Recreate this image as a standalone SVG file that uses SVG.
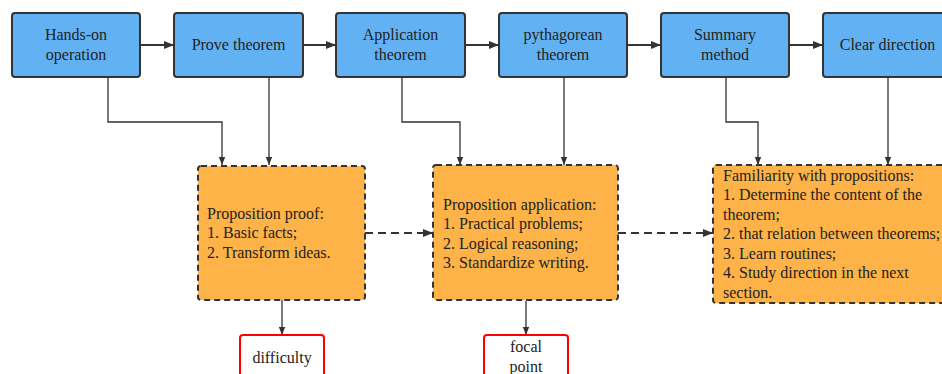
<svg xmlns="http://www.w3.org/2000/svg" width="942" height="374" viewBox="0 0 942 374">
<style>
.blue{fill:#62b2f3;stroke:#333;stroke-width:2}
.orange{fill:#fdb347;stroke:#333;stroke-width:2;stroke-dasharray:6 4}
.red{fill:#fff;stroke:#f00;stroke-width:2}
.t16{font-size:16px;text-anchor:middle;fill:#222}
.t15{font-size:16px;fill:#222}
.c{fill:none;stroke:#333;stroke-width:1.3}
.s{fill:none;stroke:#333;stroke-width:2}
.d{fill:none;stroke:#333;stroke-width:2;stroke-dasharray:8 5}
</style>
<defs>
<marker id="ah" viewBox="0 0 10 10" refX="10" refY="5" markerWidth="10" markerHeight="10" markerUnits="userSpaceOnUse" orient="auto"><path d="M0,1 L10,5 L0,9 z" fill="#333"/></marker>
<marker id="ahs" viewBox="0 0 10 10" refX="10" refY="5" markerWidth="8" markerHeight="8" markerUnits="userSpaceOnUse" orient="auto"><path d="M0,1 L10,5 L0,9 z" fill="#333"/></marker>
</defs>
<g id="connectors">
<path class="s" d="M140,45 H174" marker-end="url(#ah)"/>
<path class="s" d="M303,45 H336" marker-end="url(#ah)"/>
<path class="s" d="M465,45 H499" marker-end="url(#ah)"/>
<path class="s" d="M627,45 H661" marker-end="url(#ah)"/>
<path class="s" d="M789,45 H823" marker-end="url(#ah)"/>
<path class="c" d="M108,77 V122 H222 V165" marker-end="url(#ahs)"/>
<path class="c" d="M269,77 V165" marker-end="url(#ahs)"/>
<path class="c" d="M402,77 V122 H460 V165" marker-end="url(#ahs)"/>
<path class="c" d="M564,77 V165" marker-end="url(#ahs)"/>
<path class="c" d="M726,77 V122 H758 V165" marker-end="url(#ahs)"/>
<path class="c" d="M888,77 V165" marker-end="url(#ahs)"/>
<path class="d" d="M365,233 H433" marker-end="url(#ah)"/>
<path class="d" d="M618,233 H713" marker-end="url(#ah)"/>
<path class="c" d="M282,300 V335" marker-end="url(#ahs)"/>
<path class="c" d="M526,301 V335" marker-end="url(#ahs)"/>
</g>
<g id="nodes" font-family="Liberation Serif, serif">
<g id="n1"><rect class="blue" x="12" y="13" width="128" height="64" rx="3"/><text class="t16" x="76" y="40">Hands-on</text><text class="t16" x="76" y="60">operation</text></g>
<g id="n2"><rect class="blue" x="174" y="13" width="129" height="64" rx="3"/><text class="t16" x="238.5" y="50">Prove theorem</text></g>
<g id="n3"><rect class="blue" x="336" y="13" width="129" height="64" rx="3"/><text class="t16" x="400.5" y="40">Application</text><text class="t16" x="400.5" y="60">theorem</text></g>
<g id="n4"><rect class="blue" x="499" y="13" width="128" height="64" rx="3"/><text class="t16" x="563" y="40">pythagorean</text><text class="t16" x="563" y="60">theorem</text></g>
<g id="n5"><rect class="blue" x="661" y="13" width="128" height="64" rx="3"/><text class="t16" x="725" y="40">Summary</text><text class="t16" x="725" y="60">method</text></g>
<g id="n6"><rect class="blue" x="823" y="13" width="129" height="64" rx="3"/><text class="t16" x="887.5" y="50">Clear direction</text></g>
<g id="o1"><rect class="orange" x="198" y="166" width="167" height="134" rx="3"/>
<text class="t15"><tspan x="207" y="218.5">Proposition proof:</tspan><tspan x="207" y="238">1. Basic facts;</tspan><tspan x="207" y="257.5">2. Transform ideas.</tspan></text></g>
<g id="o2"><rect class="orange" x="433" y="165" width="185" height="135" rx="3"/>
<text class="t15"><tspan x="443" y="209.5">Proposition application:</tspan><tspan x="443" y="229">1. Practical problems;</tspan><tspan x="443" y="248.5">2. Logical reasoning;</tspan><tspan x="443" y="268">3. Standardize writing.</tspan></text></g>
<g id="o3"><rect class="orange" x="713" y="165" width="240" height="138" rx="3"/>
<text class="t15"><tspan x="723" y="180.5">Familiarity with propositions:</tspan><tspan x="723" y="200">1. Determine the content of the</tspan><tspan x="723" y="219.5">theorem;</tspan><tspan x="723" y="239">2. that relation between theorems;</tspan><tspan x="723" y="258.5">3. Learn routines;</tspan><tspan x="723" y="278">4. Study direction in the next</tspan><tspan x="723" y="297.5">section.</tspan></text></g>
<g id="r1"><rect class="red" x="240" y="335" width="84" height="48" rx="3"/><text class="t15" x="282" y="363" text-anchor="middle">difficulty</text></g>
<g id="r2"><rect class="red" x="484" y="335" width="84" height="48" rx="3"/><text class="t15" x="526" y="352" text-anchor="middle">focal</text><text class="t15" x="526" y="372" text-anchor="middle">point</text></g>
</g>
</svg>
